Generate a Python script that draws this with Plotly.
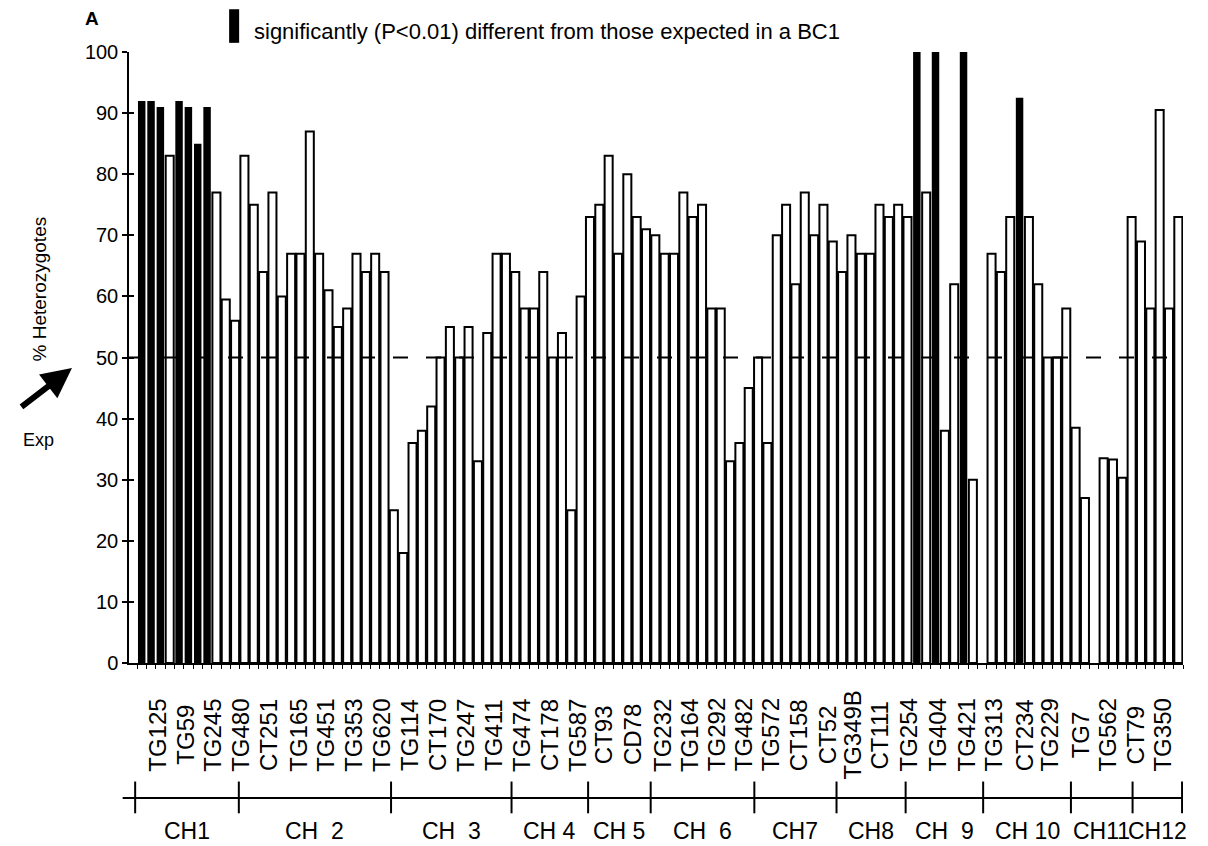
import plotly.graph_objects as go

# ---------------- data ----------------
values = [92, 92, 91, 83, 92, 91, 85, 91, 77, 59.5, 56,
          83, 75, 64, 77, 60, 67, 67, 87, 67, 61, 55, 58, 67, 64, 67, 64,
          25, 18, 36, 38, 42, 50, 55, 50, 55, 33, 54, 67, 67,
          64, 58, 58, 64, 50, 54, 25, 60,
          73, 75, 83, 67, 80, 73, 71,
          70, 67, 67, 77, 73, 75, 58, 58, 33, 36, 45,
          50, 36, 70, 75, 62, 77, 70, 75, 69,
          64, 70, 67, 67, 75, 73, 75,
          73, 101, 77, 101, 38, 62, 101, 30,
          None, 67, 64, 73, 92.5, 73, 62, 50, 50, 58,
          38.5, 27, None, 33.5, 33.3, 30.3,
          73, 69, 58, 90.5, 58, 73]
significant = [1, 1, 1, 0, 1, 1, 1, 1, 0, 0, 0,
               0, 0, 0, 0, 0, 0, 0, 0, 0, 0, 0, 0, 0, 0, 0, 0,
               0, 0, 0, 0, 0, 0, 0, 0, 0, 0, 0, 0, 0,
               0, 0, 0, 0, 0, 0, 0, 0,
               0, 0, 0, 0, 0, 0, 0,
               0, 0, 0, 0, 0, 0, 0, 0, 0, 0, 0,
               0, 0, 0, 0, 0, 0, 0, 0, 0,
               0, 0, 0, 0, 0, 0, 0,
               0, 1, 0, 1, 0, 0, 1, 0,
               0, 0, 0, 0, 1, 0, 0, 0, 0, 0,
               0, 0, 0, 0, 0, 0,
               0, 0, 0, 0, 0, 0]

marker_labels = ["TG125", "TG59", "TG245", "TG480", "CT251", "TG165", "TG451", "TG353",
                 "TG620", "TG114", "CT170", "TG247", "TG411", "TG474", "CT178", "TG587",
                 "CT93", "CD78", "TG232", "TG164", "TG292", "TG482", "TG572", "CT158",
                 "CT52", "TG349B", "CT111", "TG254", "TG404", "TG421", "TG313", "CT234",
                 "TG229", "TG7", "TG562", "CT79", "TG350"]
marker_label_pos = [1.6, 4.7, 7.5, 10.5, 13.5, 16.7, 19.6, 22.6,
                    25.6, 28.6, 31.6, 34.6, 37.6, 40.6, 43.6, 46.6,
                    49.4, 52.5, 55.7, 58.6, 61.5, 64.4, 67.3, 70.3,
                    73.4, 76.1, 79.0, 82.1, 85.2, 88.3, 91.2, 94.5,
                    97.2, 100.5, 103.4, 106.4, 109.3]

chrom_labels = ["CH1", "CH  2", "CH  3", "CH 4", "CH 5", "CH  6", "CH7", "CH8",
                "CH  9", "CH 10", "CH11", "CH12"]
chrom_bounds = [-0.7, 10.4, 26.7, 39.6, 47.8, 54.5, 65.6, 74.4, 81.8, 90.1, 99.5, 106.1, 111.4]

legend_text = "significantly (P<0.01) different from those expected in a BC1"
expected = 50

# ---------------- figure ----------------
FONT = "Liberation Sans, Arial, sans-serif"
n = len(values)
xs = list(range(n))
colors = ["black" if s else "white" for s in significant]
line_w = [0 if s else 2 for s in significant]
bar_w = [0.8 if s else 0.86 for s in significant]

fig = go.Figure()
fig.add_trace(go.Bar(
    x=xs, y=values, width=bar_w,
    marker=dict(color=colors, line=dict(color="black", width=line_w)),
    cliponaxis=False, showlegend=False, hoverinfo="skip"))
# invisible trace for inner y ticks
fig.add_trace(go.Scatter(x=[0], y=[0], yaxis="y2", mode="markers",
                         marker=dict(opacity=0), showlegend=False, hoverinfo="skip"))

shapes = []
shapes.append(dict(type="line", xref="paper", yref="y", x0=0, x1=1, y0=expected, y1=expected,
                   line=dict(color="black", width=2, dash="15px,18px"), layer="above"))
ch_y = -0.221
shapes.append(dict(type="line", xref="paper", yref="paper", x0=-0.006, x1=1.0, y0=ch_y, y1=ch_y,
                   line=dict(color="black", width=2)))
for b in chrom_bounds:
    shapes.append(dict(type="line", xref="x", yref="paper", x0=b, x1=b, y0=ch_y + 0.027, y1=ch_y - 0.025,
                       line=dict(color="black", width=2)))
shapes.append(dict(type="rect", xref="paper", yref="paper", x0=0.095, x1=0.1045, y0=1.015, y1=1.070,
                   fillcolor="black", line=dict(width=0)))

annotations = []
for lab, p in zip(marker_labels, marker_label_pos):
    annotations.append(dict(text=lab, x=p, xref="x", y=-0.118, yref="paper", textangle=-90,
                            xanchor="center", yanchor="middle", showarrow=False,
                            font=dict(family=FONT, size=24, color="black")))
for i, lab in enumerate(chrom_labels):
    cx = (chrom_bounds[i] + chrom_bounds[i + 1]) / 2
    annotations.append(dict(text=lab, x=cx, xref="x", y=-0.275, yref="paper",
                            xanchor="center", yanchor="middle", showarrow=False,
                            font=dict(family=FONT, size=23, color="black")))
annotations.append(dict(text=legend_text, x=0.1165, y=1.033, xref="paper", yref="paper",
                        xanchor="left", yanchor="middle", showarrow=False,
                        font=dict(family=FONT, size=22, color="black")))
annotations.append(dict(text="<b>A</b>", x=-0.0355, y=1.0556, xref="paper", yref="paper",
                        xanchor="center", yanchor="middle", showarrow=False,
                        font=dict(family=FONT, size=19, color="black")))
annotations.append(dict(text="% Heterozygotes", x=-0.085, y=0.612, xref="paper", yref="paper",
                        textangle=-90, xanchor="center", yanchor="middle", showarrow=False,
                        font=dict(family=FONT, size=19, color="black")))
annotations.append(dict(text="Exp", x=-0.0863, y=0.365, xref="paper", yref="paper",
                        xanchor="center", yanchor="middle", showarrow=False,
                        font=dict(family=FONT, size=18, color="black")))
annotations.append(dict(text="", x=-0.0541, y=0.4828, xref="paper", yref="paper",
                        showarrow=True, ax=-52, ay=40, arrowhead=2, arrowsize=1.0,
                        arrowwidth=6, arrowcolor="black"))

fig.update_layout(
    width=1208, height=846,
    margin=dict(l=129, r=25, t=52, b=183),
    paper_bgcolor="white", plot_bgcolor="white",
    font=dict(family=FONT, color="black"),
    xaxis=dict(range=[-1.36, 111.5], showgrid=False, zeroline=False, showline=True,
               linecolor="black", linewidth=1.5,
               tickvals=[i - 0.5 for i in range(n + 1)], showticklabels=False,
               ticks="outside", ticklen=4, tickwidth=1, tickcolor="black"),
    yaxis=dict(range=[0, 100], tickvals=list(range(0, 101, 10)), showgrid=False, zeroline=False,
               showline=True, linecolor="black", linewidth=1.5,
               ticks="outside", ticklen=5, tickwidth=1.5, tickcolor="black",
               tickfont=dict(family=FONT, size=20, color="black")),
    yaxis2=dict(range=[0, 100], overlaying="y", side="left", tickvals=list(range(0, 101, 10)),
                showgrid=False, zeroline=False, showline=False, showticklabels=False,
                ticks="inside", ticklen=5, tickwidth=1.5, tickcolor="black"),
    shapes=shapes, annotations=annotations,
)

fig.write_html("out.html", config={"displayModeBar": False},
               post_script="document.body.style.margin='0';")
